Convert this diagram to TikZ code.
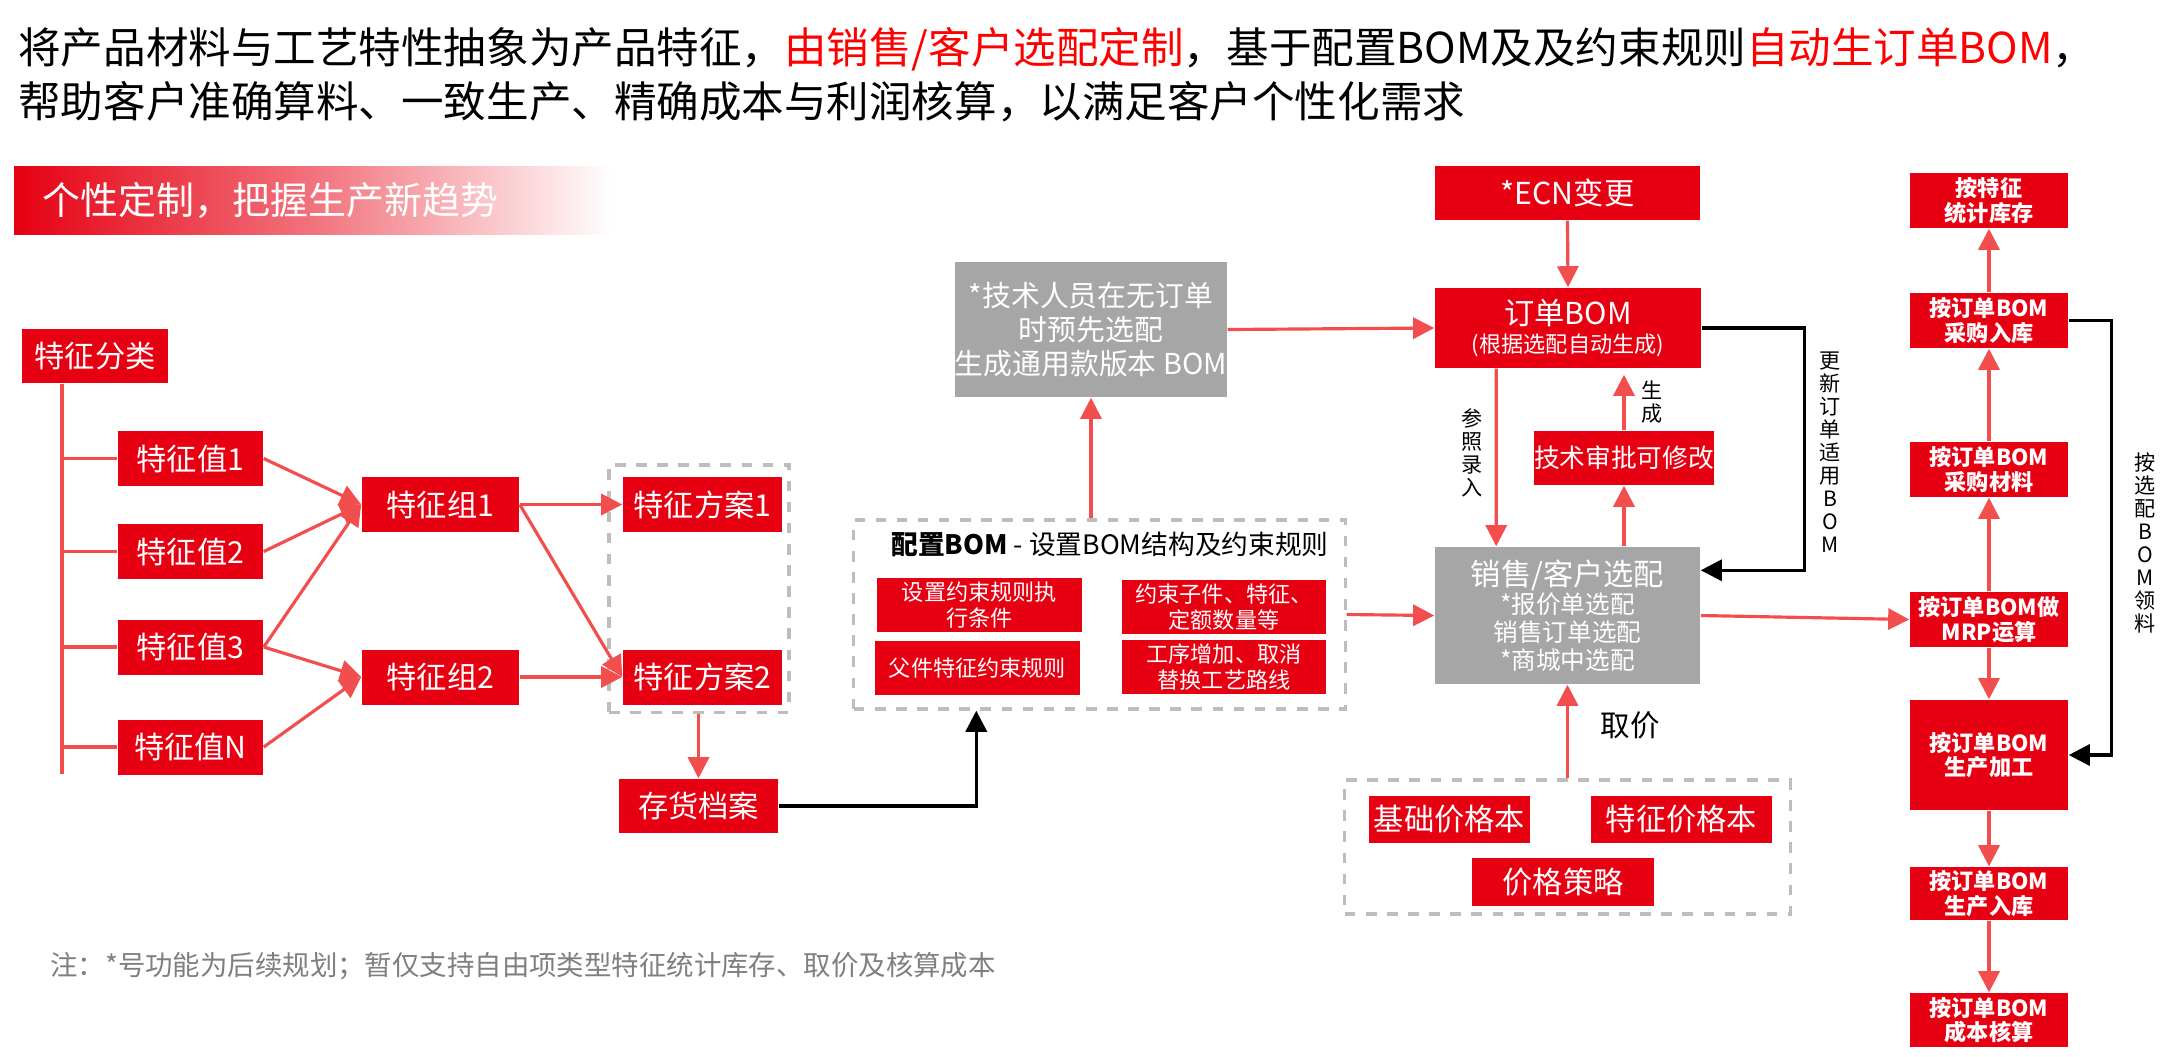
\documentclass[tikz,border=0pt]{standalone}
\usepackage{fontspec}
\setmainfont{Noto Sans CJK SC}
\usetikzlibrary{arrows.meta,calc}
\definecolor{cred}{HTML}{E60012}
\definecolor{ared}{HTML}{F24E4E}
\definecolor{cgray}{HTML}{A6A6A6}
\definecolor{dgray}{HTML}{BDBDBD}
\definecolor{tgray}{HTML}{7F7F7F}
\begin{document}
\begin{tikzpicture}[x=0.01cm,y=-0.01cm,
  box/.style={fill=cred,text=white,inner sep=0pt,align=center},
  gbox/.style={fill=cgray,text=white,inner sep=0pt,align=center},
  dbox/.style={draw=dgray,dashed,line width=0.9pt,inner sep=0pt},
  ra/.style={draw=ared,line width=0.9pt,-{Triangle[length=6pt,width=6pt]}},
  rl/.style={draw=ared,line width=0.9pt},
  ba/.style={draw=black,line width=0.9pt,-{Triangle[length=6pt,width=6pt]}},
  big/.style={font=\fontsize{8.6}{10}\selectfont},
  mid/.style={font=\fontsize{6.3}{7.2}\selectfont},
  rc/.style={box,minimum width=1.58cm,font=\bfseries\fontsize{6.3}{7}\selectfont},
  vt/.style={align=center,font=\fontsize{6}{6.55}\selectfont}]
\useasboundingbox (0,0) rectangle (2174,1056);
% header
\node[anchor=west,font=\fontsize{12.1}{14}\selectfont] (t1) at (6,49) {将产品材料与工艺特性抽象为产品特征，\textcolor{red}{由销售/客户选配定制}，基于配置BOM及及约束规则\textcolor{red}{自动生订单BOM}，};
\node[anchor=west,font=\fontsize{12.1}{14}\selectfont] (t2) at (6,102) {帮助客户准确算料、一致生产、精确成本与利润核算，以满足客户个性化需求};
\shade[left color=cred,right color=white,middle color=cred!55] (14,166) rectangle (612,234);
\node[anchor=west,text=white,font=\fontsize{10.8}{12}\selectfont] (ban) at (30,200) {个性定制，把握生产新趋势};
% left part
\node[box,big,minimum width=1.46cm,minimum height=0.54cm] (cls) at (95,356) {特征分类};
\node[box,big,minimum width=1.45cm,minimum height=0.55cm] (v1) at (190.5,458.5) {特征值1};
\node[box,big,minimum width=1.45cm,minimum height=0.55cm] (v2) at (190.5,551.5) {特征值2};
\node[box,big,minimum width=1.45cm,minimum height=0.55cm] (v3) at (190.5,647) {特征值3};
\node[box,big,minimum width=1.45cm,minimum height=0.55cm] (vn) at (190.5,747) {特征值N};
\coordinate (tr) at (62,774);
\draw[rl] (cls.south -| tr) -- (tr);
\foreach \v in {v1,v2,v3,vn} \draw[rl] (\v.west -| tr) -- (\v.west);
\node[box,big,minimum width=1.57cm,minimum height=0.55cm] (g1) at (440.5,504.5) {特征组1};
\node[box,big,minimum width=1.57cm,minimum height=0.55cm] (g2) at (440.5,677) {特征组2};
\node[dbox,minimum width=1.80cm,minimum height=2.47cm] (sbox) at (699,588.5) {};
\node[box,big,minimum width=1.59cm,minimum height=0.55cm] (s1) at (702.5,504.5) {特征方案1};
\node[box,big,minimum width=1.59cm,minimum height=0.55cm] (s2) at (702.5,677) {特征方案2};
\node[box,big,minimum width=1.59cm,minimum height=0.54cm] (inv) at (698.5,806) {存货档案};
\draw[ra] (v1.east) -- (g1.west);
\draw[ra] (v2.east) -- (g1.west);
\draw[ra] (v3.east) -- (g1.west);
\draw[ra] (v3.east) -- (g2.west);
\draw[ra] (vn.east) -- (g2.west);
\draw[ra] (g1.east) -- (s1.west);
\draw[ra] (g1.east) -- (s2.west);
\draw[ra] (g2.east) -- (s2.west);
\draw[ra] (sbox.south -| inv) -- (inv.north);
% config box
\node[dbox,minimum width=4.91cm,minimum height=1.89cm] (cbox) at (1099.5,614.5) {};
\node[font=\fontsize{7.6}{9}\selectfont] (ctitle) at (1110,544) {\textbf{配置BOM} - 设置BOM结构及约束规则};
\node[box,mid,minimum width=2.05cm,minimum height=0.54cm] (c1) at (979.5,605) {设置约束规则执\\行条件};
\node[box,mid,minimum width=2.05cm,minimum height=0.54cm] (c2) at (977.5,668) {父件特征约束规则};
\node[box,mid,minimum width=2.04cm,minimum height=0.54cm] (c3) at (1224,607) {约束子件、特征、\\定额数量等};
\node[box,mid,minimum width=2.04cm,minimum height=0.54cm] (c4) at (1224,667) {工序增加、取消\\替换工艺路线};
\draw[ba] (inv.east) -| ($(cbox.south west)+(124,0)$);
% gray tech box
\node[gbox,font=\fontsize{8.2}{9.6}\selectfont,minimum width=2.64cm,minimum height=1.35cm] (tech) at (1091,329.5) {*技术人员在无订单\\时预先选配\\生成通用款版本 BOM};
\draw[ra] (cbox.north -| tech) -- (tech.south);
% middle column
\node[box,font=\fontsize{8.6}{10}\selectfont,minimum width=2.65cm,minimum height=0.54cm] (ecn) at (1567.5,193) {*ECN变更};
\node[box,font=\fontsize{6.3}{7.8}\selectfont,minimum width=2.66cm,minimum height=0.80cm] (obom) at (1568,328) {{\fontsize{8.6}{10}\selectfont 订单BOM}\\(根据选配自动生成)};
\node[box,font=\fontsize{7.3}{9}\selectfont,minimum width=1.58cm,minimum height=0.54cm] (appr) at (1624,458) {技术审批可修改};
\node[gbox,font=\fontsize{7}{8}\selectfont,minimum width=2.65cm,minimum height=1.37cm] (sale) at (1567.5,615.5) {{\fontsize{8.6}{9}\selectfont 销售/客户选配}\\*报价单选配\\销售订单选配\\*商城中选配};
\draw[ra] (tech.east) -- (obom.west);
\draw[ra] (ecn.south) -- (obom.north);
\draw[ra] ($(obom.south west)+(62,0)$) -- ($(sale.north west)+(62,0)$);
\draw[ra] (sale.north -| appr) -- (appr.south);
\draw[ra] (appr.north) -- ($(obom.south -| appr)+(0,6)$);
\draw[ba] (obom.east) -- ++(103,0) |- ($(sale.north east)+(0,24)$);
\draw[ra] (cbox.east) -- (sale.west);
\node[vt] (l1) at (1472,453) {参\\照\\录\\入};
\node[vt] (l2) at (1652,402) {生\\成};
\node[vt] (l3) at (1830,452) {更\\新\\订\\单\\适\\用\\B\\O\\M};
% price
\node[dbox,minimum width=4.45cm,minimum height=1.34cm] (pbox) at (1567.5,847) {};
\node[box,big,minimum width=1.61cm,minimum height=0.47cm] (p1) at (1449.5,819.5) {基础价格本};
\node[box,big,minimum width=1.81cm,minimum height=0.47cm] (p2) at (1681.5,819.5) {特征价格本};
\node[box,big,minimum width=1.82cm,minimum height=0.48cm] (p3) at (1563,882) {价格策略};
\draw[ra] (pbox.north) -- (sale.south);
\node[font=\fontsize{8.4}{10}\selectfont] (qj) at (1630,725) {取价};
% right column
\node[rc,minimum height=0.55cm] (r1) at (1989,200.5) {按特征\\统计库存};
\node[rc,minimum height=0.55cm] (r2) at (1989,320.5) {按订单BOM\\采购入库};
\node[rc,minimum height=0.55cm] (r3) at (1989,469.5) {按订单BOM\\采购材料};
\node[rc,minimum height=0.55cm] (r4) at (1989,619.5) {按订单BOM做\\MRP运算};
\node[rc,minimum height=1.10cm] (r5) at (1989,755) {按订单BOM\\生产加工};
\node[rc,minimum height=0.53cm] (r6) at (1989,893.5) {按订单BOM\\生产入库};
\node[rc,minimum height=0.54cm] (r7) at (1989,1020) {按订单BOM\\成本核算};
\draw[ra] (sale.east) -- (r4.west);
\draw[ra] (r4.north) -- (r3.south);
\draw[ra] (r3.north) -- (r2.south);
\draw[ra] (r2.north) -- (r1.south);
\draw[ra] (r4.south) -- (r5.north);
\draw[ra] (r5.south) -- (r6.north);
\draw[ra] (r6.south) -- (r7.north);
\draw[ba] (r2.east) -- ++(43,0) |- (r5.east);
\node[vt] (l4) at (2145,543) {按\\选\\配\\B\\O\\M\\领\\料};
% note
\node[anchor=west,text=tgray,font=\fontsize{7.8}{9}\selectfont] (note) at (38,966) {注：*号功能为后续规划；暂仅支持自由项类型特征统计库存、取价及核算成本};
\end{tikzpicture}
\end{document}
